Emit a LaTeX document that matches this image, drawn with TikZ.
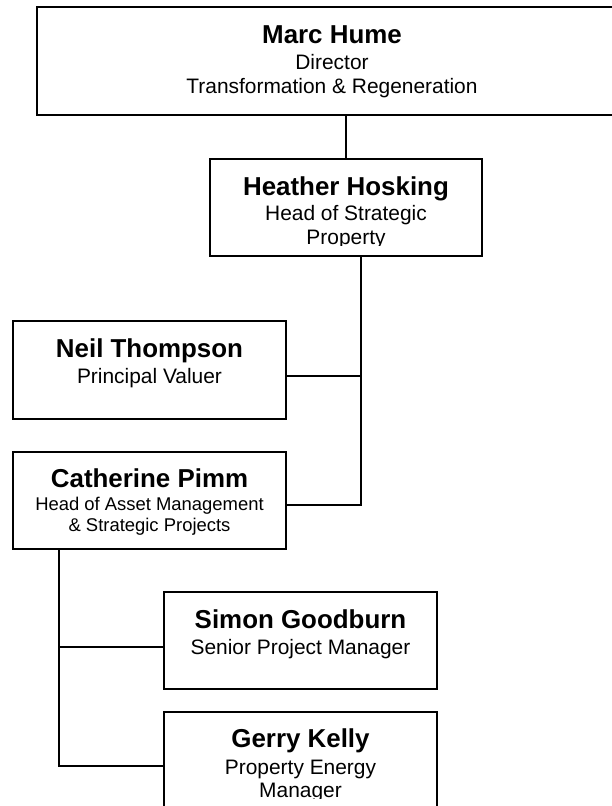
\documentclass[tikz,border=0pt]{standalone}
\usepackage{fontspec}
\setmainfont{Liberation Sans}
\begin{document}
\begin{tikzpicture}[x=1bp,y=-1bp,
  box/.style={draw=black, line width=1.6bp, rectangle, inner sep=0, outer sep=0, fill=none},
  conn/.style={draw=black, line width=1.3bp},
  namet/.style={anchor=base, inner sep=0, font=\fontsize{26}{30}\selectfont\bfseries},
  titlet/.style={anchor=base, inner sep=0, font=\fontsize{21}{24}\selectfont},
  smallt/.style={anchor=base, inner sep=0, font=\fontsize{18.5}{21}\selectfont}]
\path[use as bounding box, clip] (0,0) rectangle (612,806);
\fill[white] (0,0) rectangle (612,806);

% boxes
\node[box, minimum width=591bp, minimum height=108bp] (marc) at (332.5,61) {};
\node[box, minimum width=272bp, minimum height=97bp] (heather) at (346,207.5) {};
\node[box, minimum width=273bp, minimum height=98bp] (neil) at (149.5,370) {};
\node[box, minimum width=273bp, minimum height=97bp] (cath) at (149.5,500.5) {};
\node[box, minimum width=273bp, minimum height=97bp] (simon) at (300.5,640.5) {};
\node[box, minimum width=273bp, minimum height=97bp] (gerry) at (300.5,760.5) {};

% texts
\node[namet] (marcN) at (332,44) {Marc Hume};
\node[titlet] (marcT1) at (332,69.5) {Director};
\node[titlet] (marcT2) at (332,93.5) {Transformation \& Regeneration};

\begin{scope}
\clip (heather.north west) rectangle (heather.east |- 0,245);
\node[namet] (heatherN) at (346,195) {Heather Hosking};
\node[titlet] (heatherT1) at (346,220.5) {Head of Strategic};
\node[titlet] (heatherT2) at (346,244.5) {Property};
\end{scope}

\node[namet] (neilN) at (149.5,357) {Neil Thompson};
\node[titlet] (neilT) at (149.5,383.5) {Principal Valuer};

\node[namet] (cathN) at (149.5,487) {Catherine Pimm};
\node[smallt] (cathT1) at (149.5,510.5) {Head of Asset Management};
\node[smallt] (cathT2) at (149.5,531.7) {\& Strategic Projects};

\node[namet] (simonN) at (300.5,628) {Simon Goodburn};
\node[titlet] (simonT) at (300.5,654.5) {Senior Project Manager};

\begin{scope}
\clip (gerry.north west) rectangle (gerry.east |- 0,798);
\node[namet] (gerryN) at (300.5,747) {Gerry Kelly};
\node[titlet] (gerryT1) at (300.5,774.5) {Property Energy};
\node[titlet] (gerryT2) at (300.5,797.5) {Manager};
\end{scope}

% connectors
\coordinate (nj) at (361,376);
\coordinate (hj) at (361,505);
\coordinate (sj) at (59,647);
\coordinate (gj) at (59,766);

\draw[conn] (heather.north) -- (heather.north |- marc.south);
\draw[conn] (heather.south -| hj) -- (hj) -- (hj -| cath.east);
\draw[conn] (nj) -- (nj -| neil.east);
\draw[conn] (cath.south -| gj) -- (gj) -- (gj -| gerry.west);
\draw[conn] (sj) -- (sj -| simon.west);
\end{tikzpicture}
\end{document}
